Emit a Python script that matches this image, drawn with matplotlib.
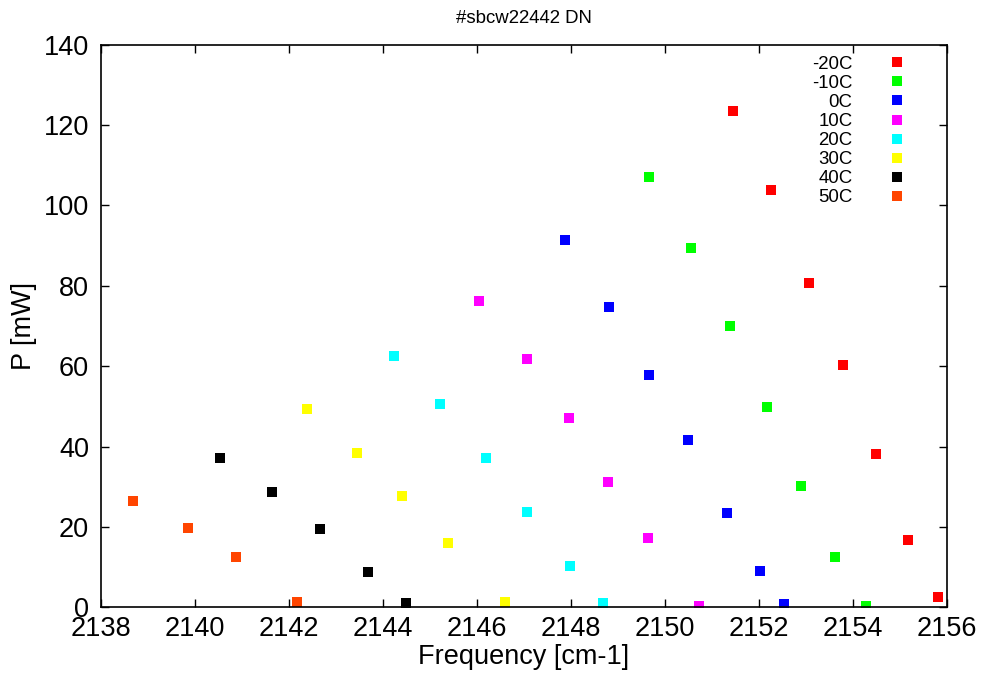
import matplotlib
matplotlib.use("Agg")
import matplotlib.pyplot as plt

plt.rcParams['font.family'] = ['Liberation Sans', 'DejaVu Sans']

labels = ["-20C", "-10C", "0C", "10C", "20C", "30C", "40C", "50C"]
colors = ["#ff0000", "#00ff00", "#0000ff", "#ff00ff", "#00ffff", "#ffff00", "#000000", "#ff4500"]

x_m20 = [2151.45, 2152.26, 2153.07, 2153.79, 2154.50, 2155.18, 2155.82]
y_m20 = [123.4, 103.7, 80.6, 60.2, 38.1, 16.7, 2.5]
x_m10 = [2149.67, 2150.56, 2151.38, 2152.18, 2152.90, 2153.62, 2154.28]
y_m10 = [107.0, 89.3, 70.0, 49.8, 30.3, 12.4, 0.25]
x_0 = [2147.88, 2148.82, 2149.67, 2150.50, 2151.33, 2152.03, 2152.54]
y_0 = [91.5, 74.6, 57.7, 41.5, 23.4, 9.0, 0.8]
x_10 = [2146.05, 2147.07, 2147.96, 2148.79, 2149.64, 2150.73]
y_10 = [76.3, 61.7, 47.0, 31.1, 17.2, 0.25]
x_20 = [2144.24, 2145.22, 2146.20, 2147.07, 2147.99, 2148.69]
y_20 = [62.4, 50.5, 37.1, 23.6, 10.2, 1.07]
x_30 = [2142.39, 2143.45, 2144.41, 2145.39, 2146.60]
y_30 = [49.3, 38.3, 27.6, 15.9, 1.2]
x_40 = [2140.54, 2141.64, 2142.67, 2143.69, 2144.50]
y_40 = [37.1, 28.6, 19.4, 8.7, 1.0]
x_50 = [2138.69, 2139.86, 2140.88, 2142.18]
y_50 = [26.4, 19.7, 12.4, 1.2]

xs = [x_m20, x_m10, x_0, x_10, x_20, x_30, x_40, x_50]
ys = [y_m20, y_m10, y_0, y_10, y_20, y_30, y_40, y_50]

xticks = [2138, 2140, 2142, 2144, 2146, 2148, 2150, 2152, 2154, 2156]
yticks = [0, 20, 40, 60, 80, 100, 120, 140]

fig = plt.figure(figsize=(9.86, 6.75), dpi=100)
ax = fig.add_axes([0.1024, 0.1003, 0.8577, 0.8337])

for x, y, c, lab in zip(xs, ys, colors, labels):
    ax.plot(x, y, linestyle='none', marker='s', markersize=6.5,
            markerfacecolor=c, markeredgecolor=c, markeredgewidth=0, label=lab)

ax.set_xlim(2138, 2156)
ax.set_ylim(0, 140)
ax.set_xticks(xticks)
ax.set_yticks(yticks)
ax.tick_params(direction='in', length=6, width=1.0, labelsize=19.5,
               top=True, right=True, pad=6.5)
ax.tick_params(axis='y', pad=8.5)
for s in ax.spines.values():
    s.set_linewidth(1.2)

ax.set_xlabel("Frequency [cm-1]", fontsize=19.5, labelpad=1)
ax.set_ylabel("P [mW]", fontsize=19.5, labelpad=5)
ax.set_title("#sbcw22442 DN", fontsize=13.4, pad=15.5)

fs = 13.4
leg = ax.legend(loc='upper right', bbox_to_anchor=(0.952, 0.980),
                frameon=False, markerfirst=False, fontsize=fs,
                handlelength=1.0, handletextpad=1.87, labelspacing=0.11,
                borderaxespad=0, borderpad=0)

fig.savefig("out.png", dpi=100)
